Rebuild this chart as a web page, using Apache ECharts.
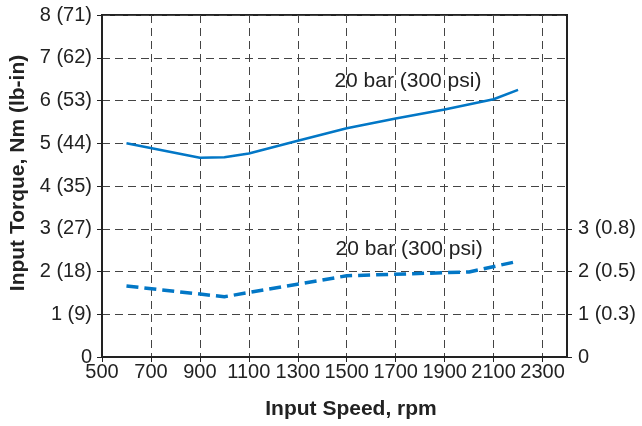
<!DOCTYPE html>
<html>
<head>
<meta charset="utf-8">
<script src="https://cdn.jsdelivr.net/npm/echarts@6/dist/echarts.min.js"></script>
<style>
  html, body { margin: 0; padding: 0; background: #fff; }
  #chart { width: 642px; height: 426px; }
</style>
</head>
<body>
<div id="chart"></div>
<script>
// 输入转速 / 扭矩数据
const speedSolid = [600, 900, 1000, 1100, 1300, 1500, 1700, 1900, 2100, 2200];
const torqueSolid = [5.0, 4.66, 4.67, 4.76, 5.06, 5.35, 5.58, 5.79, 6.03, 6.25];
const speedDashed = [600, 1000, 1500, 2000, 2200];
const torqueDashed = [1.66, 1.41, 1.9, 1.99, 2.24];

// 刻度文字
const xTicks = [500, 700, 900, 1100, 1300, 1500, 1700, 1900, 2100, 2300];
const leftLabels = ['0', '1 (9)', '2 (18)', '3 (27)', '4 (35)', '5 (44)', '6 (53)', '7 (62)', '8 (71)'];
const rightLabels = ['0', '1 (0.3)', '2 (0.5)', '3 (0.8)'];
const curveLabel = '20 bar (300 psi)';

const font = '"Liberation Sans", Arial, sans-serif';
const blue = '#0277c6';
const ink = '#222';

const chart = echarts.init(document.getElementById('chart'));

const gridLine = { show: true, lineStyle: { color: '#444', type: [8, 5], width: 1 } };

const option = {
  animation: false,
  textStyle: { fontFamily: font },
  grid: {
    left: 102, right: 75, top: 15, bottom: 69,
    show: true, borderColor: ink, borderWidth: 2,
    outerBoundsMode: 'none'
  },
  xAxis: {
    type: 'value',
    min: 500, max: 2400, interval: 200,
    name: 'Input Speed, rpm',
    nameLocation: 'middle',
    nameGap: 42,
    nameTextStyle: { fontSize: 21, fontWeight: 'bold', color: ink, fontFamily: font, padding: [0, 0, 0, 33] },
    axisLine: { show: true, lineStyle: { color: ink, width: 2 } },
    axisTick: { show: true, length: 5, customValues: xTicks, lineStyle: { color: ink } },
    axisLabel: {
      customValues: xTicks, margin: 5, fontSize: 20, color: ink, fontFamily: font,
      hideOverlap: false, showMaxLabel: true,
      formatter: (v) => String(v)
    },
    splitLine: gridLine
  },
  yAxis: [
    {
      type: 'value',
      min: 0, max: 8, interval: 1,
      name: 'Input Torque, Nm (lb-in)',
      nameLocation: 'middle',
      nameGap: 68,
      nameTextStyle: { fontSize: 21, fontWeight: 'bold', color: ink, fontFamily: font, padding: [0, 0, 0, 26] },
      axisLine: { show: true, lineStyle: { color: ink, width: 2 } },
      axisTick: { show: true, length: 5, lineStyle: { color: ink } },
      axisLabel: { margin: 10, fontSize: 20, color: ink, fontFamily: font, formatter: (v) => leftLabels[Math.round(v)] },
      splitLine: gridLine
    },
    {
      type: 'value',
      position: 'right',
      min: 0, max: 8, interval: 1,
      axisLine: { show: true, lineStyle: { color: ink, width: 2 } },
      axisTick: { show: true, length: 5, customValues: [0, 1, 2, 3], lineStyle: { color: ink } },
      axisLabel: {
        customValues: [0, 1, 2, 3],
        margin: 11, fontSize: 20, color: ink, fontFamily: font,
        formatter: (v) => rightLabels[Math.round(v)] || ''
      },
      splitLine: { show: false }
    }
  ],
  series: [
    {
      type: 'line',
      data: speedSolid.map((s, i) => [s, torqueSolid[i]]),
      symbol: 'none',
      lineStyle: { color: blue, width: 2.5 },
      markPoint: {
        symbol: 'circle', symbolSize: 0,
        label: { show: true, position: 'inside', formatter: curveLabel, fontSize: 21, color: ink, fontFamily: font },
        data: [{ coord: [1750, 6.46] }]
      }
    },
    {
      type: 'line',
      data: speedDashed.map((s, i) => [s, torqueDashed[i]]),
      symbol: 'none',
      lineStyle: { color: blue, width: 3.5, type: [12, 6] },
      markPoint: {
        symbol: 'circle', symbolSize: 0,
        label: { show: true, position: 'inside', formatter: curveLabel, fontSize: 21, color: ink, fontFamily: font },
        data: [{ coord: [1755, 2.51] }]
      }
    }
  ]
};

chart.setOption(option);
</script>
</body>
</html>
